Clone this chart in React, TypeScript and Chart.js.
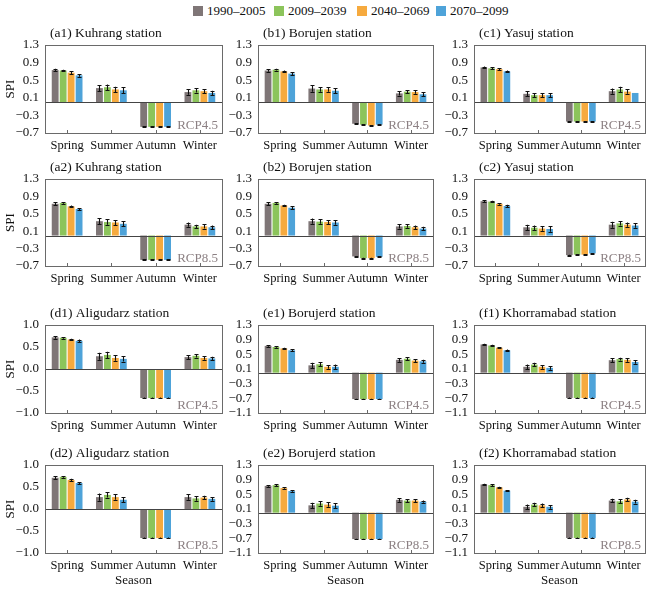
import React, { useEffect, useRef } from "react";
import { Chart, registerables } from "chart.js";

Chart.register(...registerables);

const SEASONS = ["Spring", "Summer", "Autumn", "Winter"];
const PERIODS = ["1990–2005", "2009–2039", "2040–2069", "2070–2099"];
const COLORS = ["#7f7677", "#8cc45b", "#f6aa3e", "#4ea3d9"];

// values: one inner array per period, in season order
const a1Values = [[0.73, 0.32, -0.56, 0.23], [0.72, 0.34, -0.56, 0.27], [0.67, 0.29, -0.56, 0.25], [0.61, 0.27, -0.56, 0.21]];
const a2Values = [[0.73, 0.33, -0.56, 0.25], [0.75, 0.31, -0.56, 0.21], [0.67, 0.3, -0.56, 0.21], [0.61, 0.27, -0.56, 0.19]];
const b1Values = [[0.72, 0.31, -0.49, 0.2], [0.74, 0.29, -0.51, 0.24], [0.7, 0.29, -0.53, 0.23], [0.65, 0.26, -0.51, 0.18]];
const b2Values = [[0.73, 0.33, -0.48, 0.21], [0.75, 0.32, -0.52, 0.22], [0.69, 0.31, -0.52, 0.19], [0.64, 0.3, -0.49, 0.16]];
const c1Values = [[0.79, 0.19, -0.44, 0.25], [0.77, 0.16, -0.44, 0.29], [0.75, 0.16, -0.44, 0.24], [0.7, 0.16, -0.44, 0.21]];
const c2Values = [[0.79, 0.19, -0.45, 0.25], [0.78, 0.18, -0.44, 0.28], [0.73, 0.16, -0.44, 0.25], [0.68, 0.15, -0.41, 0.23]];
const d1Values = [[0.72, 0.29, -0.66, 0.27], [0.71, 0.32, -0.66, 0.3], [0.67, 0.25, -0.66, 0.25], [0.64, 0.23, -0.66, 0.24]];
const d2Values = [[0.71, 0.27, -0.66, 0.27], [0.73, 0.32, -0.66, 0.24], [0.66, 0.27, -0.66, 0.26], [0.59, 0.21, -0.66, 0.23]];
const e1Values = [[0.73, 0.2, -0.72, 0.35], [0.7, 0.23, -0.72, 0.38], [0.66, 0.16, -0.72, 0.33], [0.61, 0.16, -0.72, 0.31]];
const e2Values = [[0.73, 0.2, -0.72, 0.35], [0.75, 0.25, -0.72, 0.33], [0.67, 0.22, -0.72, 0.33], [0.59, 0.19, -0.72, 0.3]];
const f1Values = [[0.77, 0.16, -0.69, 0.34], [0.74, 0.22, -0.69, 0.37], [0.68, 0.16, -0.69, 0.35], [0.61, 0.13, -0.69, 0.29]];
const f2Values = [[0.77, 0.16, -0.69, 0.33], [0.75, 0.22, -0.69, 0.31], [0.69, 0.2, -0.69, 0.36], [0.6, 0.16, -0.69, 0.3]];

// error half-widths, same layout
const a1Errors = [[0.03, 0.07, 0.01, 0.06], [0.02, 0.06, 0.01, 0.05], [0.03, 0.06, 0.01, 0.05], [0.03, 0.07, 0.01, 0.05]];
const a2Errors = [[0.03, 0.07, 0.01, 0.05], [0.02, 0.06, 0.01, 0.04], [0.02, 0.06, 0.01, 0.05], [0.02, 0.06, 0.01, 0.04]];
const b1Errors = [[0.03, 0.07, 0.01, 0.05], [0.02, 0.05, 0.01, 0.04], [0.02, 0.05, 0.01, 0.04], [0.03, 0.06, 0.01, 0.05]];
const b2Errors = [[0.03, 0.06, 0.01, 0.05], [0.02, 0.05, 0.01, 0.04], [0.02, 0.05, 0.01, 0.04], [0.03, 0.05, 0.01, 0.04]];
const c1Errors = [[0.02, 0.06, 0.01, 0.06], [0.02, 0.05, 0.01, 0.06], [0.02, 0.05, 0.01, 0.05], [0.02, 0.05, 0.01, 0.0]];
const c2Errors = [[0.03, 0.06, 0.01, 0.07], [0.02, 0.05, 0.01, 0.05], [0.02, 0.05, 0.01, 0.05], [0.03, 0.06, 0.01, 0.05]];
const d1Errors = [[0.03, 0.08, 0.01, 0.05], [0.02, 0.07, 0.01, 0.04], [0.02, 0.06, 0.01, 0.04], [0.03, 0.06, 0.01, 0.04]];
const d2Errors = [[0.03, 0.08, 0.01, 0.06], [0.02, 0.06, 0.01, 0.05], [0.03, 0.06, 0.01, 0.04], [0.02, 0.06, 0.01, 0.04]];
const e1Errors = [[0.02, 0.07, 0.01, 0.05], [0.02, 0.06, 0.01, 0.04], [0.02, 0.05, 0.01, 0.04], [0.03, 0.06, 0.01, 0.04]];
const e2Errors = [[0.02, 0.07, 0.01, 0.05], [0.02, 0.06, 0.01, 0.04], [0.02, 0.06, 0.01, 0.04], [0.02, 0.07, 0.01, 0.03]];
const f1Errors = [[0.02, 0.06, 0.01, 0.05], [0.02, 0.05, 0.01, 0.04], [0.02, 0.05, 0.01, 0.05], [0.02, 0.05, 0.01, 0.05]];
const f2Errors = [[0.02, 0.06, 0.01, 0.05], [0.02, 0.05, 0.01, 0.05], [0.02, 0.05, 0.01, 0.05], [0.02, 0.05, 0.01, 0.05]];

const TITLES = [
  "(a1) Kuhrang station", "(b1) Borujen station", "(c1) Yasuj station",
  "(a2) Kuhrang station", "(b2) Borujen station", "(c2) Yasuj station",
  "(d1) Aligudarz station", "(e1) Borujerd station", "(f1) Khorramabad station",
  "(d2) Aligudarz station", "(e2) Borujerd station", "(f2) Khorramabad station",
];
const SCENARIOS = ["RCP4.5", "RCP4.5", "RCP4.5", "RCP8.5", "RCP8.5", "RCP8.5", "RCP4.5", "RCP4.5", "RCP4.5", "RCP8.5", "RCP8.5", "RCP8.5"];
const VALUES = [a1Values, b1Values, c1Values, a2Values, b2Values, c2Values, d1Values, e1Values, f1Values, d2Values, e2Values, f2Values];
const ERRORS = [a1Errors, b1Errors, c1Errors, a2Errors, b2Errors, c2Errors, d1Errors, e1Errors, f1Errors, d2Errors, e2Errors, f2Errors];

// y-axis ranges [min, max, step]
const Y_ABC = [-0.7, 1.3, 0.4];
const Y_D = [-1.0, 1.0, 0.5];
const Y_EF = [-1.1, 1.3, 0.4];
const Y_RANGES = [Y_ABC, Y_ABC, Y_ABC, Y_ABC, Y_ABC, Y_ABC, Y_D, Y_EF, Y_EF, Y_D, Y_EF, Y_EF];

// layout (plot area pixels)
const COL_LEFT = [45, 258, 474];
const COL_RIGHT = [222, 433, 645];
const ROW_TOP = [45, 179, 325, 465];
const ROW_BOTTOM = [133, 266, 413, 553];

const FONT = "'Liberation Serif', 'Times New Roman', serif";
const Y_AXIS_W = 45;
const TOP_PAD = 28;
const RIGHT_PAD = 4;

const fmt = (v: number) => {
  const s = (Math.round(v * 10) / 10).toFixed(1);
  return s.startsWith("-") ? "\u2212" + s.slice(1) : s;
};

const decoPlugin = {
  id: "deco",
  afterDatasetsDraw(chart: any, _args: any, opts: any) {
    const { ctx, chartArea, scales } = chart;
    const { left, right, top, bottom } = chartArea;
    const y = scales.y;
    const x = scales.x;
    ctx.save();
    // error bars
    ctx.strokeStyle = "#111";
    ctx.lineWidth = 1.1;
    chart.data.datasets.forEach((ds: any, di: number) => {
      const meta = chart.getDatasetMeta(di);
      meta.data.forEach((bar: any, i: number) => {
        const v = ds.data[i];
        const e = ds.errors[i];
        if (!e) return;
        const yh = y.getPixelForValue(v + e);
        const yl = y.getPixelForValue(v - e);
        const bx = Math.round(bar.x) + 0.5;
        ctx.beginPath();
        ctx.moveTo(bx, yh);
        ctx.lineTo(bx, yl);
        ctx.moveTo(bx - 2, Math.round(yh) + 0.5);
        ctx.lineTo(bx + 2, Math.round(yh) + 0.5);
        ctx.moveTo(bx - 2, Math.round(yl) + 0.5);
        ctx.lineTo(bx + 2, Math.round(yl) + 0.5);
        ctx.stroke();
      });
    });
    ctx.lineWidth = 1;
    // zero line
    const y0 = Math.round(y.getPixelForValue(0)) + 0.5;
    ctx.strokeStyle = "#444";
    ctx.beginPath();
    ctx.moveTo(left, y0);
    ctx.lineTo(right, y0);
    ctx.stroke();
    // box
    ctx.strokeStyle = "#6a6a6a";
    ctx.strokeRect(Math.round(left) + 0.5, Math.round(top) + 0.5, Math.round(right - left), Math.round(bottom - top));
    // x tick marks
    ctx.beginPath();
    x.ticks.forEach((_t: any, i: number) => {
      const px = Math.round(x.getPixelForTick(i)) + 0.5;
      ctx.moveTo(px, bottom);
      ctx.lineTo(px, bottom - 3);
    });
    ctx.stroke();
    // title
    ctx.fillStyle = "#111";
    ctx.font = `13.5px ${FONT}`;
    ctx.textAlign = "left";
    ctx.textBaseline = "alphabetic";
    ctx.fillText(opts.title, left + 5, top - 8);
    // scenario label
    ctx.fillStyle = "#8c8083";
    ctx.font = `13px ${FONT}`;
    ctx.textAlign = "right";
    ctx.fillText(opts.scenario, right - 4, bottom - 4);
    ctx.restore();
  },
};

function Panel({ index }: { index: number }) {
  const ref = useRef<HTMLCanvasElement | null>(null);
  const row = Math.floor(index / 3);
  const col = index % 3;
  const isBottom = row === 3;
  const xh = isBottom ? 36 : 20;
  const plotL = COL_LEFT[col];
  const plotR = COL_RIGHT[col];
  const plotT = ROW_TOP[row];
  const plotB = ROW_BOTTOM[row];
  const left = plotL - Y_AXIS_W;
  const top = plotT - TOP_PAD;
  const width = plotR - plotL + Y_AXIS_W + RIGHT_PAD;
  const height = plotB - plotT + TOP_PAD + xh;

  useEffect(() => {
    let chart: Chart | null = null;
    let cancelled = false;
    const build = () => {
      if (cancelled || !ref.current) return;
      const vals = VALUES[index];
      const errs = ERRORS[index];
      const [ymin, ymax, step] = Y_RANGES[index];
      chart = new Chart(ref.current as HTMLCanvasElement, {
        type: "bar",
        data: {
          labels: SEASONS,
          datasets: PERIODS.map((p, k) => ({
            label: p,
            data: vals[k],
            errors: errs[k],
            backgroundColor: COLORS[k],
            borderWidth: 0,
            categoryPercentage: 0.72,
            barPercentage: 0.86,
          })) as any,
        },
        options: {
          animation: false,
          responsive: true,
          maintainAspectRatio: false,
          layout: { padding: { top: TOP_PAD, right: RIGHT_PAD, left: 0, bottom: 0 } },
          plugins: {
            legend: { display: false },
            tooltip: { enabled: false },
            deco: { title: TITLES[index], scenario: SCENARIOS[index] },
          } as any,
          scales: {
            x: {
              type: "category",
              grid: { display: false, drawTicks: false },
              border: { display: false },
              ticks: { font: { family: FONT, size: 12.5 }, color: "#111", padding: 5, autoSkip: false, maxRotation: 0, minRotation: 0 },
              title: { display: isBottom, text: "Season", font: { family: FONT, size: 13 }, color: "#111", padding: { top: 0, bottom: 1 } },
              afterFit: (s: any) => { s.height = xh; },
            },
            y: {
              min: ymin,
              max: ymax,
              grid: { display: false, drawTicks: false },
              border: { display: false },
              ticks: { stepSize: step, autoSkip: false, font: { family: FONT, size: 13 }, color: "#111", padding: 6, callback: (v: any) => fmt(Number(v)) },
              title: { display: col === 0, text: "SPI", font: { family: FONT, size: 13 }, color: "#111", padding: { top: 3, bottom: 0 } },
              afterFit: (s: any) => { s.width = Y_AXIS_W; },
            },
          },
        },
        plugins: [decoPlugin as any],
      });
    };
    const fonts = (document as any).fonts;
    if (fonts && fonts.load) {
      Promise.all([fonts.load("13px 'Liberation Serif'")])
        .catch(() => null)
        .then(() => build());
    } else {
      build();
    }
    return () => {
      cancelled = true;
      if (chart) chart.destroy();
    };
  }, [index]);

  return (
    <div style={{ position: "absolute", left, top, width, height }}>
      <canvas ref={ref} />
    </div>
  );
}

const LEGEND_LEFT = [193, 274, 357, 436];

export default function App() {
  return (
    <div style={{ position: "absolute", left: 0, top: 0, width: 650, height: 589, overflow: "hidden", background: "#fff", fontFamily: FONT }}>
      {PERIODS.map((p, k) => (
        <div key={p} style={{ position: "absolute", left: LEGEND_LEFT[k], top: 3, height: 16, display: "flex", alignItems: "center", fontSize: 13, color: "#111", whiteSpace: "nowrap" }}>
          <span style={{ display: "inline-block", width: 10, height: 10, background: COLORS[k], marginRight: 4 }} />
          <span>{p}</span>
        </div>
      ))}
      {TITLES.map((_, i) => (
        <Panel key={i} index={i} />
      ))}
    </div>
  );
}
